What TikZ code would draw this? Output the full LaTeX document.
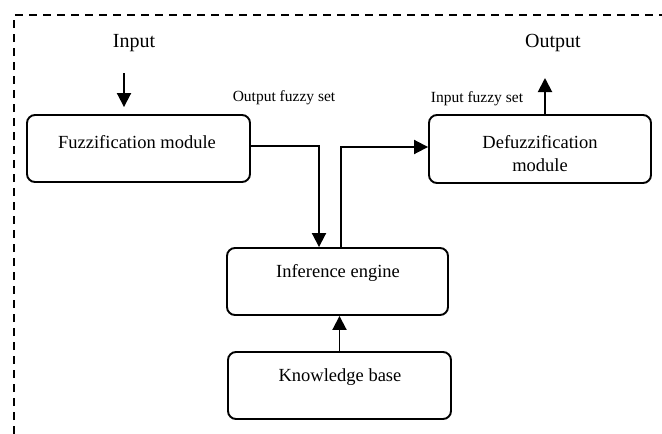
\documentclass[tikz,border=0pt]{standalone}
\usepackage{fontspec}
\setmainfont{Liberation Serif}
\usepackage{tikz}
\usetikzlibrary{positioning,arrows.meta}

\tikzset{
  block/.style={draw, line width=1.9pt, rounded corners=8pt, minimum width=223pt, minimum height=67pt, inner sep=0pt},
  bigtext/.style={font=\fontsize{20}{24}\selectfont},
  boxtext/.style={font=\fontsize{18.5}{23}\selectfont, align=center},
  settext/.style={font=\fontsize{15.5}{18}\selectfont},
  flow/.style={line width=1.9pt, -{Triangle[length=14pt,width=14pt]}},
}

\begin{document}
\begin{tikzpicture}[x=1pt,y=-1pt]
\useasboundingbox (0,0) rectangle (662,434);
% frame (only top and left edges visible)
\draw[line width=2.4pt, dash pattern=on 8pt off 6pt] (14,434) -- (14,15) -- (662,15);

% blocks
\node[block] (fuzz) at (138.5,148.5) {};
\node[block, minimum width=222pt, minimum height=68pt] (defuzz) at (540,149) {};
\node[block, minimum width=221pt] (infer) at (337.5,281.5) {};
\node[block] (know) at (339.5,385.5) {};

% block texts
\node[boxtext] (fuzzlbl) at (137,142) {Fuzzification module};
\node[boxtext] (defuzzlbl) at (540,142) {Defuzzification};
\node[boxtext] (defuzzlbl2) at (540,165) {module};
\node[boxtext] (inferlbl) at (338,273) {Inference engine};
\node[boxtext] (knowlbl) at (340,377) {Knowledge base};

% outside labels
\node[bigtext] (input) at (134,43) {Input};
\node[bigtext] (output) at (553,43) {Output};
\node[settext] (outset) at (284,98) {Output fuzzy set};
\node[settext] (inset) at (477,99) {Input fuzzy set};

% connectors
\coordinate (inTop) at (124,73);
\coordinate (outTop) at (545,78);
\draw[flow, shorten >=7pt] (inTop) -- (inTop |- fuzz.north);
\draw[flow] ([yshift=2.5pt]fuzz.east) -| ([xshift=-18.5pt]infer.north);
\draw[flow] ([xshift=3.5pt]infer.north) |- ([yshift=2pt]defuzz.west);
\draw[flow] ([xshift=5pt]defuzz.north) -- (outTop);
\draw[flow] (know.north) -- (know.north |- infer.south);
\end{tikzpicture}
\end{document}
